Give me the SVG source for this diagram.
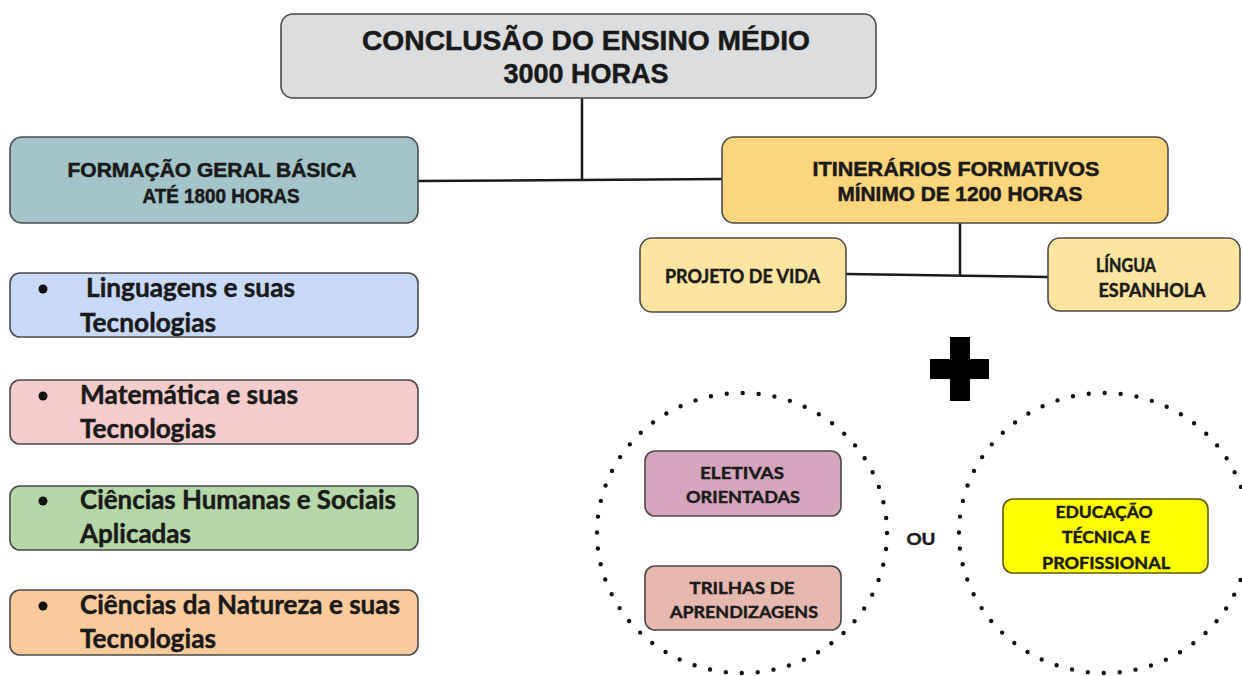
<svg xmlns="http://www.w3.org/2000/svg" width="1242" height="676" viewBox="0 0 1242 676">
<style>
.box{stroke:#4a4a4a;stroke-width:1.6}
.ar{font-family:"Liberation Sans",Arial,sans-serif;font-weight:bold;fill:#1a1a1a;stroke:#1a1a1a;stroke-width:0.5;text-anchor:middle}
.cb{font-family:Lato,"Open Sans",sans-serif;font-weight:bold;fill:#1a1a1a;stroke:#1a1a1a;stroke-width:0.45}
.cm{text-anchor:middle}
.ln{stroke:#1a1a1a;stroke-width:2.5;fill:none}
.dots{fill:none;stroke:#111;stroke-width:4.4;stroke-linecap:round;stroke-dasharray:0 16}
</style>
<rect width="1242" height="676" fill="#ffffff"/>
<g id="connectors">
<line class="ln" x1="582" y1="98" x2="582" y2="180"/>
<line class="ln" x1="418" y1="181" x2="722" y2="179"/>
<line class="ln" x1="960" y1="223" x2="960" y2="276"/>
<line class="ln" x1="846" y1="274" x2="1048" y2="277"/>
</g>
<g id="top">
<rect class="box" x="281" y="14" width="595" height="84" rx="12" fill="#dcdddf"/>
<text class="ar" x="586" y="50" font-size="28" textLength="448" lengthAdjust="spacingAndGlyphs">CONCLUSÃO DO ENSINO MÉDIO</text>
<text class="ar" x="586" y="83" font-size="28" textLength="165" lengthAdjust="spacingAndGlyphs">3000 HORAS</text>
</g>
<g id="fgb">
<rect class="box" x="10" y="137" width="408" height="86" rx="12" fill="#a3c4c9"/>
<text class="ar" x="212" y="177" font-size="19.5" textLength="289" lengthAdjust="spacingAndGlyphs">FORMAÇÃO GERAL BÁSICA</text>
<text class="ar" x="221" y="203" font-size="19.5" textLength="157" lengthAdjust="spacingAndGlyphs">ATÉ 1800 HORAS</text>
</g>
<g id="if">
<rect class="box" x="722" y="137" width="446" height="86" rx="12" fill="#fbd67c"/>
<text class="ar" x="956" y="176" font-size="19.5" textLength="287" lengthAdjust="spacingAndGlyphs">ITINERÁRIOS FORMATIVOS</text>
<text class="ar" x="960" y="201" font-size="19.5" textLength="245" lengthAdjust="spacingAndGlyphs">MÍNIMO DE 1200 HORAS</text>
</g>
<g id="pv">
<rect class="box" x="640" y="238" width="206" height="74" rx="12" fill="#fde4a0"/>
<text class="cb cm" x="742.500" y="283" font-size="18" textLength="155" lengthAdjust="spacingAndGlyphs">PROJETO DE VIDA</text>
</g>
<g id="le">
<rect class="box" x="1048" y="238" width="192" height="73" rx="12" fill="#fde4a0"/>
<text class="cb cm" x="1126" y="272" font-size="18" textLength="60" lengthAdjust="spacingAndGlyphs">LÍNGUA</text>
<text class="cb cm" x="1152" y="297" font-size="18" textLength="107" lengthAdjust="spacingAndGlyphs">ESPANHOLA</text>
</g>
<g id="ling">
<rect class="box" x="10" y="273" width="408" height="64" rx="10" fill="#c9daf8"/>
<circle cx="43" cy="289" r="4.5" fill="#111"/>
<text class="cb" x="86" y="297" font-size="26" textLength="209" lengthAdjust="spacingAndGlyphs">Linguagens e suas</text>
<text class="cb" x="80" y="332" font-size="26" textLength="136" lengthAdjust="spacingAndGlyphs">Tecnologias</text>
</g>
<g id="mat">
<rect class="box" x="10" y="380" width="408" height="64" rx="10" fill="#f4cccc"/>
<circle cx="43" cy="396" r="4.5" fill="#111"/>
<text class="cb" x="80" y="404" font-size="26" textLength="218" lengthAdjust="spacingAndGlyphs">Matemática e suas</text>
<text class="cb" x="80" y="438" font-size="26" textLength="136" lengthAdjust="spacingAndGlyphs">Tecnologias</text>
</g>
<g id="chs">
<rect class="box" x="10" y="486" width="408" height="64" rx="10" fill="#b6d7a8"/>
<circle cx="43" cy="501" r="4.5" fill="#111"/>
<text class="cb" x="80" y="509" font-size="26" textLength="316" lengthAdjust="spacingAndGlyphs">Ciências Humanas e Sociais</text>
<text class="cb" x="80" y="543" font-size="26" textLength="111" lengthAdjust="spacingAndGlyphs">Aplicadas</text>
</g>
<g id="cn">
<rect class="box" x="10" y="590" width="408" height="65" rx="10" fill="#f9cb9c"/>
<circle cx="43" cy="606" r="4.5" fill="#111"/>
<text class="cb" x="80" y="614" font-size="26" textLength="320" lengthAdjust="spacingAndGlyphs">Ciências da Natureza e suas</text>
<text class="cb" x="80" y="648" font-size="26" textLength="136" lengthAdjust="spacingAndGlyphs">Tecnologias</text>
</g>
<g id="plus">
<rect x="950" y="337" width="20" height="64" fill="#000"/>
<rect x="930" y="359" width="59" height="20" fill="#000"/>
</g>
<g id="circle-left">
<ellipse class="dots" cx="742" cy="533" rx="145" ry="140"/>
</g>
<g id="circle-right">
<ellipse class="dots" cx="1104" cy="533" rx="145" ry="140"/>
</g>
<g id="eletivas">
<rect class="box" x="645" y="451" width="196" height="65" rx="10" fill="#d5a6bd"/>
<text class="cb cm" x="742" y="479" font-size="17" textLength="84" lengthAdjust="spacingAndGlyphs">ELETIVAS</text>
<text class="cb cm" x="743" y="503" font-size="17" textLength="114" lengthAdjust="spacingAndGlyphs">ORIENTADAS</text>
</g>
<g id="trilhas">
<rect class="box" x="645" y="566" width="196" height="64" rx="10" fill="#e6b8af"/>
<text class="cb cm" x="742" y="594" font-size="17" textLength="105" lengthAdjust="spacingAndGlyphs">TRILHAS DE</text>
<text class="cb cm" x="744" y="618" font-size="17" textLength="148" lengthAdjust="spacingAndGlyphs">APRENDIZAGENS</text>
</g>
<g id="ou">
<text class="cb cm" x="921" y="545" font-size="17" textLength="29" lengthAdjust="spacingAndGlyphs">OU</text>
</g>
<g id="etp">
<rect x="1003" y="499" width="205" height="74" rx="10" fill="#ffff00" stroke="#5a5a10" stroke-width="1.6"/>
<text class="cb cm" x="1104" y="518" font-size="17" textLength="97" lengthAdjust="spacingAndGlyphs">EDUCAÇÃO</text>
<text class="cb cm" x="1106" y="543" font-size="17" textLength="88" lengthAdjust="spacingAndGlyphs">TÉCNICA E</text>
<text class="cb cm" x="1106" y="569" font-size="17" textLength="128" lengthAdjust="spacingAndGlyphs">PROFISSIONAL</text>
</g>
</svg>
